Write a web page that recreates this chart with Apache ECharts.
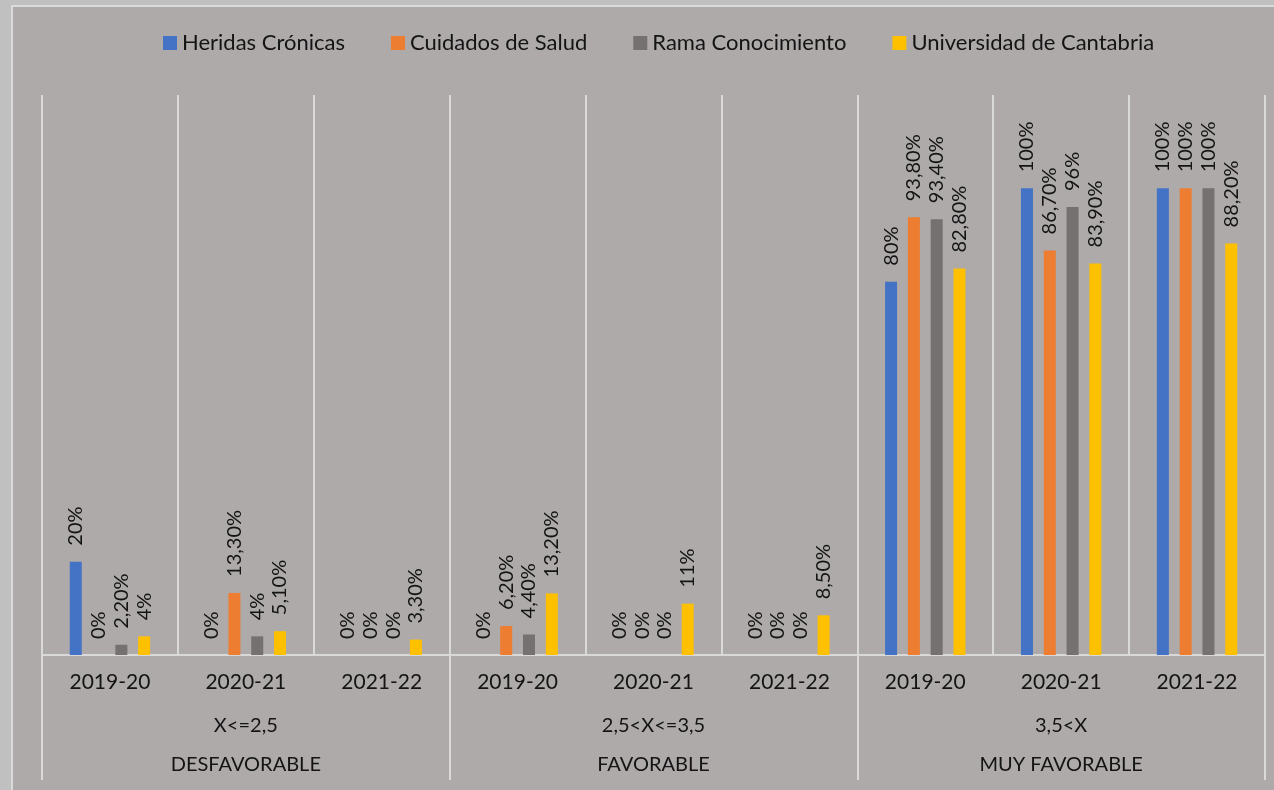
<!DOCTYPE html>
<html>
<head>
<meta charset="utf-8">
<script src="https://cdn.jsdelivr.net/npm/echarts@6/dist/echarts.min.js"></script>
<style>
  html, body { margin: 0; padding: 0; background: #c0c0c0; }
  #frame {
    position: absolute; left: 11px; top: 5px; width: 1270px; height: 790px;
    background: #aeaaaa; border-top: 2px solid #dadada; border-left: 2px solid #dadada;
  }
  #chart { position: absolute; left: 0; top: 0; width: 1274px; height: 790px; }
</style>
</head>
<body>
<div id="frame"></div>
<div id="chart"></div>
<script>
// categorias (tres niveles)
const years = ['2019-20', '2020-21', '2021-22', '2019-20', '2020-21', '2021-22', '2019-20', '2020-21', '2021-22']
const ranges = ['X<=2,5', '2,5<X<=3,5', '3,5<X']
const groups = ['DESFAVORABLE', 'FAVORABLE', 'MUY FAVORABLE']

// valores en %
const heridas = [20, 0, 0, 0, 0, 0, 80, 100, 100]
const cuidados = [0, 13.3, 0, 6.2, 0, 0, 93.8, 86.7, 100]
const rama = [2.2, 4, 0, 4.4, 0, 0, 93.4, 96, 100]
const universidad = [4, 5.1, 3.3, 13.2, 11, 8.5, 82.8, 83.9, 88.2]

const FONT = 'Lato, "Open Sans", sans-serif'
const LINE = '#d9d9d9'
const TEXT = '#141414'

function fmt(v) {
  return Number.isInteger(v) ? v + '%' : v.toFixed(2).replace('.', ',') + '%'
}

function makeSeries(name, data, color) {
  return {
    name: name,
    type: 'bar',
    data: data,
    barWidth: 12,
    barGap: '90%',
    itemStyle: { color: color },
    label: {
      show: true,
      position: 'top',
      rotate: 90,
      align: 'left',
      verticalAlign: 'middle',
      distance: 16,
      fontSize: 20,
      fontFamily: FONT,
      color: TEXT,
      formatter: p => fmt(p.value)
    }
  }
}

const chart = echarts.init(document.getElementById('chart'))

const option = {
  animation: false,
  textStyle: { fontFamily: FONT },
  legend: {
    top: 27,
    left: 158,
    icon: 'rect',
    itemWidth: 14,
    itemHeight: 14,
    itemGap: 46,
    textStyle: { fontSize: 22, color: TEXT, fontFamily: FONT }
  },
  grid: { left: 42, right: 9, top: 95, bottom: 135 },
  xAxis: [
    {
      type: 'category',
      data: years,
      axisLine: { lineStyle: { color: LINE, width: 2 } },
      axisTick: { show: false },
      splitLine: { show: true, lineStyle: { color: LINE, width: 2 } },
      axisLabel: { interval: 0, margin: 17, fontSize: 21, color: TEXT, fontFamily: FONT }
    },
    {
      type: 'category',
      data: ranges,
      position: 'bottom',
      axisLine: { show: false },
      axisTick: { show: true, length: 125, lineStyle: { color: LINE, width: 2 } },
      axisLabel: { interval: 0, margin: 61, fontSize: 20, color: TEXT, fontFamily: FONT }
    },
    {
      type: 'category',
      data: groups,
      position: 'bottom',
      axisLine: { show: false },
      axisTick: { show: false },
      axisLabel: { interval: 0, margin: 100, fontSize: 20, color: TEXT, fontFamily: FONT }
    }
  ],
  yAxis: { type: 'value', min: 0, max: 120, show: false },
  series: [
    makeSeries('Heridas Crónicas', heridas, '#4472c4'),
    makeSeries('Cuidados de Salud', cuidados, '#ed7d31'),
    makeSeries('Rama Conocimiento', rama, '#767171'),
    makeSeries('Universidad de Cantabria', universidad, '#ffc000')
  ]
}

chart.setOption(option)
</script>
</body>
</html>
